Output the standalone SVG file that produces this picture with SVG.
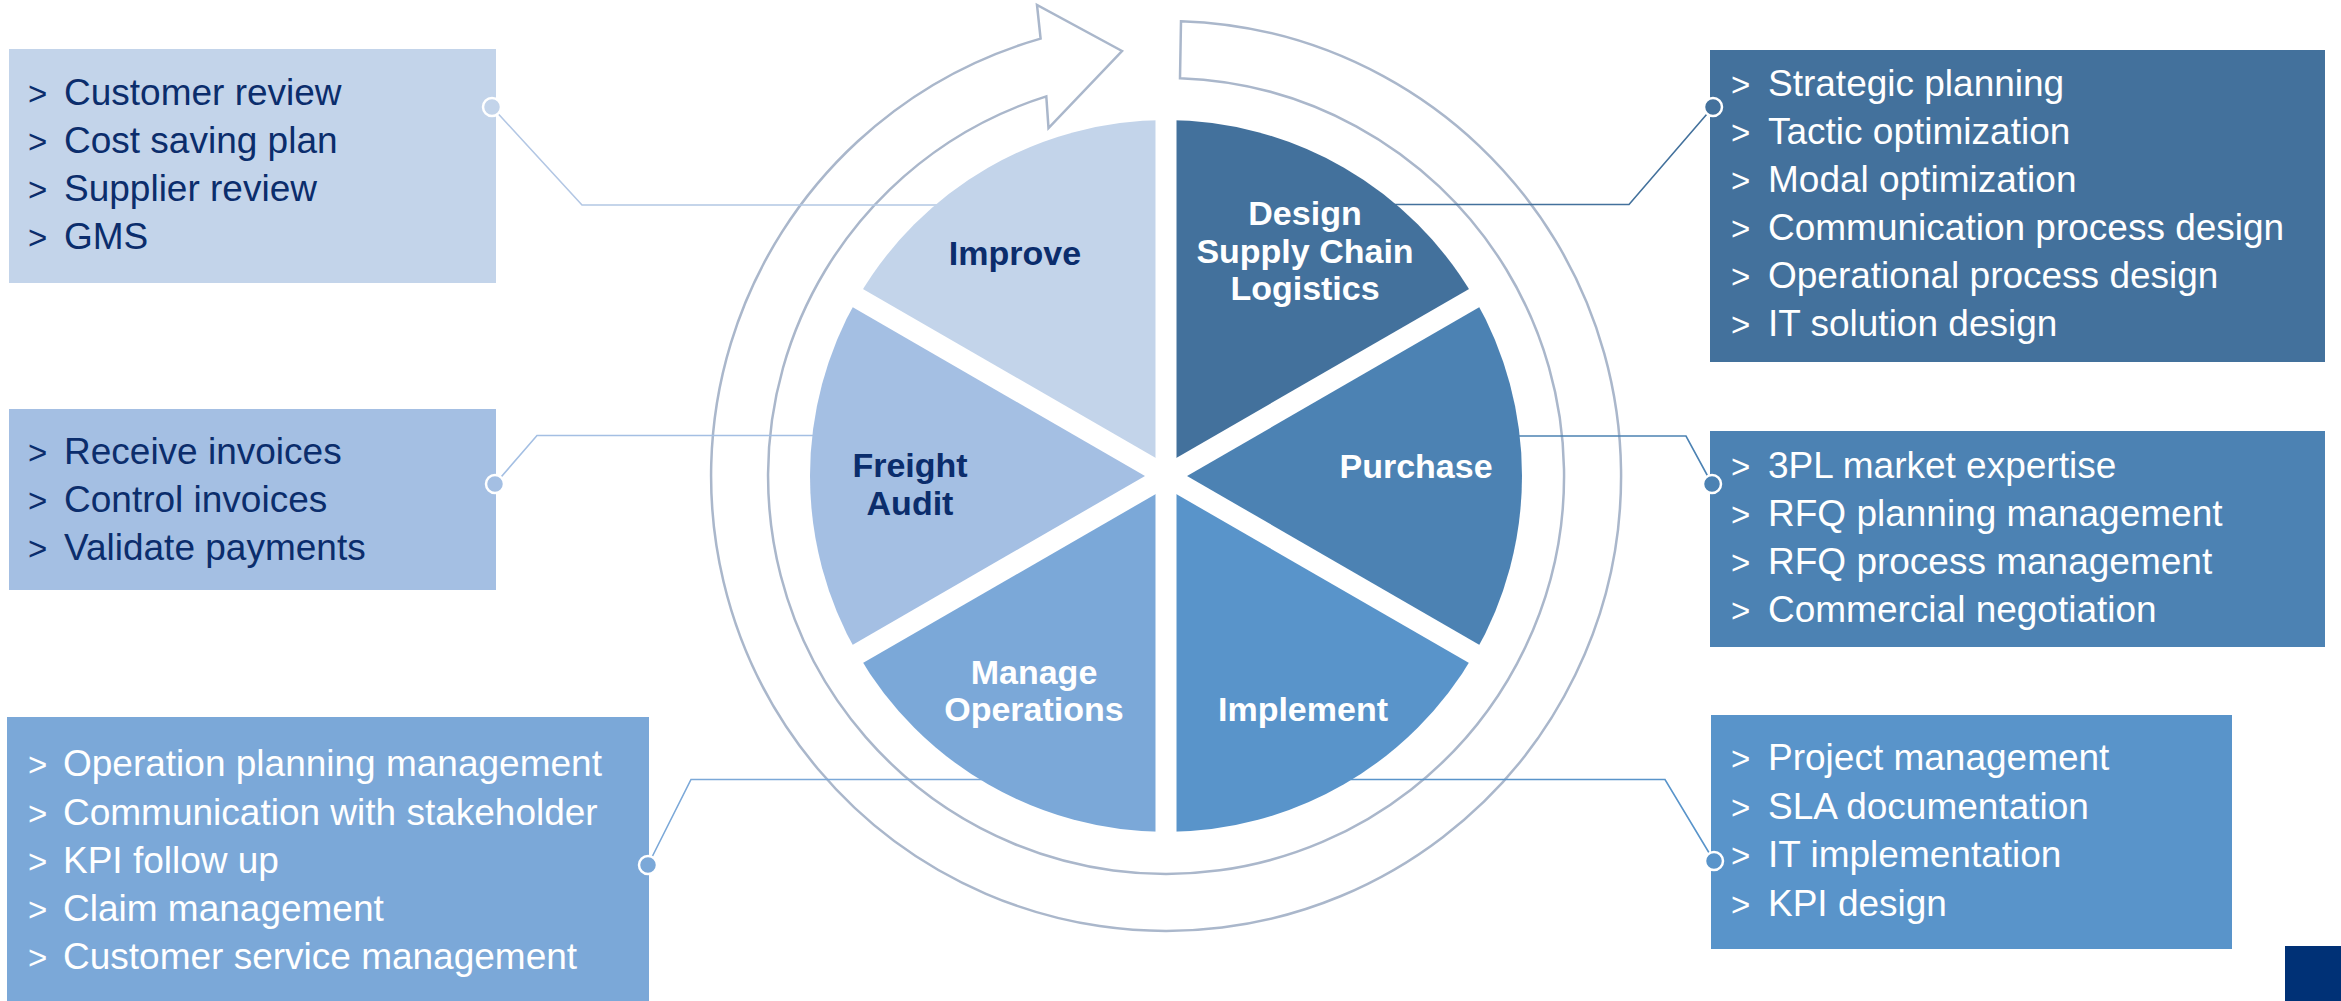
<svg xmlns="http://www.w3.org/2000/svg" width="2341" height="1001" viewBox="0 0 2341 1001">
<style>
.box-t{font-family:"Liberation Sans",Arial,sans-serif;font-size:37px}
.chev{font-family:"Liberation Sans",Arial,sans-serif;font-size:33px}
.navy{fill:#0B2D6C}
.wht{fill:#FFFFFF}
.lbl{font-family:"Liberation Sans",Arial,sans-serif;font-size:34px;font-weight:bold;text-anchor:middle}
.ring{fill:#FFFFFF;stroke:#AAB7CB;stroke-width:2.5}
.conn{fill:none;stroke-width:1.6}
.dot{stroke:#FFFFFF;stroke-width:2.5}
.gap{stroke:#FFFFFF;stroke-width:21}
</style>
<rect x="0" y="0" width="2341" height="1001" fill="#FFFFFF"/>

<g id="ring">
<path class="ring" d="M 1181 21.2 A 455 455 0 1 1 1040.6 38.6 L 1037 5 L 1122 51 L 1048.5 128 L 1046.3 96.4 A 398 398 0 1 0 1180 78.2 Z"/>
</g>

<g id="connectors">
<polyline class="conn" stroke="#B3C7E4" points="492,107 582,205 1000,205"/>
<polyline class="conn" stroke="#A4BFE3" points="495,484 537,435.5 950,435.5"/>
<polyline class="conn" stroke="#7BA8D8" points="648,865 691,779.5 1100,779.5"/>
<polyline class="conn" stroke="#43719C" points="1713,107 1629,204.5 1300,204.5"/>
<polyline class="conn" stroke="#4C82B3" points="1712,484 1686,436 1400,436"/>
<polyline class="conn" stroke="#5994CA" points="1714,861 1665,779.5 1250,779.5"/>
</g>

<g id="pie">
<path id="sector-design" fill="#43719C" d="M 1166 476 L 1166 120 A 356 356 0 0 1 1474.3 298 Z"/>
<path id="sector-purchase" fill="#4C82B3" d="M 1166 476 L 1474.3 298 A 356 356 0 0 1 1474.3 654 Z"/>
<path id="sector-implement" fill="#5994CA" d="M 1166 476 L 1474.3 654 A 356 356 0 0 1 1166 832 Z"/>
<path id="sector-manage" fill="#7BA8D8" d="M 1166 476 L 1166 832 A 356 356 0 0 1 857.7 654 Z"/>
<path id="sector-freight" fill="#A4BFE3" d="M 1166 476 L 857.7 654 A 356 356 0 0 1 857.7 298 Z"/>
<path id="sector-improve" fill="#C3D4EA" d="M 1166 476 L 857.7 298 A 356 356 0 0 1 1166 120 Z"/>
<line class="gap" x1="1166" y1="100" x2="1166" y2="852"/>
<line class="gap" x1="1490.8" y1="288.5" x2="841.2" y2="663.5"/>
<line class="gap" x1="1490.8" y1="663.5" x2="841.2" y2="288.5"/>
<text class="lbl navy" x="1015" y="265">Improve</text>
<text class="lbl wht" x="1305" y="225">Design</text>
<text class="lbl wht" x="1305" y="262.5">Supply Chain</text>
<text class="lbl wht" x="1305" y="300">Logistics</text>
<text class="lbl wht" x="1416" y="478">Purchase</text>
<text class="lbl navy" x="910" y="477">Freight</text>
<text class="lbl navy" x="910" y="515">Audit</text>
<text class="lbl wht" x="1034" y="684">Manage</text>
<text class="lbl wht" x="1034" y="721">Operations</text>
<text class="lbl wht" x="1303" y="721">Implement</text>
</g>

<g id="box-improve">
<rect x="9" y="49" width="487" height="234" fill="#C3D4EA"/>
<g class="navy">
<text class="chev" x="28" y="105">&gt;</text><text class="box-t" x="64" y="105">Customer review</text>
<text class="chev" x="28" y="153">&gt;</text><text class="box-t" x="64" y="153">Cost saving plan</text>
<text class="chev" x="28" y="201">&gt;</text><text class="box-t" x="64" y="201">Supplier review</text>
<text class="chev" x="28" y="249">&gt;</text><text class="box-t" x="64" y="249">GMS</text>
</g>
<circle class="dot" cx="492" cy="107" r="9" fill="#C3D4EA"/>
</g>

<g id="box-freight">
<rect x="9" y="409" width="487" height="181" fill="#A4BFE3"/>
<g class="navy">
<text class="chev" x="28" y="464">&gt;</text><text class="box-t" x="64" y="464">Receive invoices</text>
<text class="chev" x="28" y="512">&gt;</text><text class="box-t" x="64" y="512">Control invoices</text>
<text class="chev" x="28" y="560">&gt;</text><text class="box-t" x="64" y="560">Validate payments</text>
</g>
<circle class="dot" cx="495" cy="484" r="9" fill="#A4BFE3"/>
</g>

<g id="box-manage">
<rect x="7" y="717" width="642" height="284" fill="#7BA8D8"/>
<g class="wht">
<text class="chev" x="28" y="776">&gt;</text><text class="box-t" x="63" y="776">Operation planning management</text>
<text class="chev" x="28" y="825">&gt;</text><text class="box-t" x="63" y="825">Communication with stakeholder</text>
<text class="chev" x="28" y="873">&gt;</text><text class="box-t" x="63" y="873">KPI follow up</text>
<text class="chev" x="28" y="921">&gt;</text><text class="box-t" x="63" y="921">Claim management</text>
<text class="chev" x="28" y="969">&gt;</text><text class="box-t" x="63" y="969">Customer service management</text>
</g>
<circle class="dot" cx="648" cy="865" r="9" fill="#7BA8D8"/>
</g>

<g id="box-design">
<rect x="1710" y="50" width="615" height="312" fill="#43719C"/>
<g class="wht">
<text class="chev" x="1731" y="96">&gt;</text><text class="box-t" x="1768" y="96">Strategic planning</text>
<text class="chev" x="1731" y="144">&gt;</text><text class="box-t" x="1768" y="144">Tactic optimization</text>
<text class="chev" x="1731" y="192">&gt;</text><text class="box-t" x="1768" y="192">Modal optimization</text>
<text class="chev" x="1731" y="240">&gt;</text><text class="box-t" x="1768" y="240">Communication process design</text>
<text class="chev" x="1731" y="288">&gt;</text><text class="box-t" x="1768" y="288">Operational process design</text>
<text class="chev" x="1731" y="336">&gt;</text><text class="box-t" x="1768" y="336">IT solution design</text>
</g>
<circle class="dot" cx="1713" cy="107" r="9" fill="#43719C"/>
</g>

<g id="box-purchase">
<rect x="1710" y="431" width="615" height="216" fill="#4C82B3"/>
<g class="wht">
<text class="chev" x="1731" y="478">&gt;</text><text class="box-t" x="1768" y="478">3PL market expertise</text>
<text class="chev" x="1731" y="526">&gt;</text><text class="box-t" x="1768" y="526">RFQ planning management</text>
<text class="chev" x="1731" y="574">&gt;</text><text class="box-t" x="1768" y="574">RFQ process management</text>
<text class="chev" x="1731" y="622">&gt;</text><text class="box-t" x="1768" y="622">Commercial negotiation</text>
</g>
<circle class="dot" cx="1712" cy="484" r="9" fill="#4C82B3"/>
</g>

<g id="box-implement">
<rect x="1711" y="715" width="521" height="234" fill="#5994CA"/>
<g class="wht">
<text class="chev" x="1731" y="770">&gt;</text><text class="box-t" x="1768" y="770">Project management</text>
<text class="chev" x="1731" y="819">&gt;</text><text class="box-t" x="1768" y="819">SLA documentation</text>
<text class="chev" x="1731" y="867">&gt;</text><text class="box-t" x="1768" y="867">IT implementation</text>
<text class="chev" x="1731" y="916">&gt;</text><text class="box-t" x="1768" y="916">KPI design</text>
</g>
<circle class="dot" cx="1714" cy="861" r="9" fill="#5994CA"/>
</g>

<g id="corner-mark">
<rect x="2285" y="946" width="56" height="55" fill="#003176"/>
</g>
</svg>
